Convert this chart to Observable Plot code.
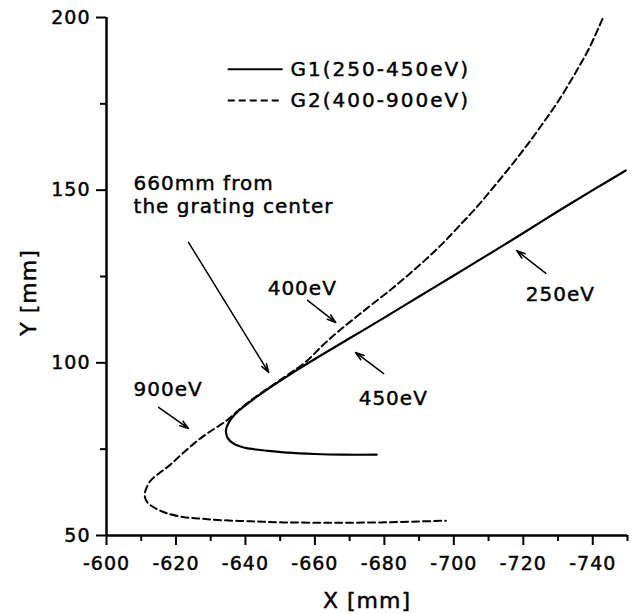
<!DOCTYPE html>
<html>
<head>
<meta charset="utf-8">
<script src="https://cdn.jsdelivr.net/npm/d3@7"></script>
<script src="https://cdn.jsdelivr.net/npm/@observablehq/plot@0.6"></script>
<style>
  html, body { margin: 0; padding: 0; background: #fff; }
  #chart svg text { letter-spacing: 1px; stroke: #000; stroke-width: 0.45px; }
  #chart svg g[aria-label="x-axis tick"], #chart svg g[aria-label="y-axis tick"] { stroke-width: 2px; }
</style>
</head>
<body>
<div id="chart"></div>
<script>
// ---- Data ----
// G1 (250-450 eV) focal curve, solid
const g1X = [-749.5, -740, -730, -720, -710, -700, -690, -680, -670, -660,
             -652, -646, -641, -637.5, -635.3, -634.4, -634.9, -636.6, -639.5, -643,
             -646.5, -652, -660, -668, -677.8];
const g1Y = [155.7, 150.0, 143.9, 137.6, 131.4, 125.3, 119.2, 113.1, 107.1, 101.1,
             96.1, 92.1, 88.5, 85.6, 82.9, 80.5, 78.2, 76.6, 75.5, 74.9,
             74.5, 74.0, 73.6, 73.4, 73.4];
// G2 (400-900 eV) focal curve, dashed
const g2X = [-742.8, -739.0, -735.2, -730.4, -725.6, -720.9, -716.1, -711.3, -706.5, -701.6,
             -696.8, -692.1, -687.4, -682.6, -677.8, -672.4, -667.0, -662.5, -657.5, -652.0,
             -646.0, -641.0, -637.5, -634.6, -631.5, -628.5, -625.5, -622.3, -619.8, -617.5,
             -615.0, -612.7, -611.4, -611.0, -611.6, -612.9, -615.0, -617.5, -622.3, -627.0,
             -631.9, -641.5, -651.0, -661.7, -670.0, -678.9, -688.0, -697.7];
const g2Y = [199.6, 191.2, 184.3, 176.3, 169.3, 162.8, 156.6, 150.7, 145.0, 139.7,
             134.6, 130.1, 125.9, 121.8, 118.0, 113.7, 109.3, 105.3, 100.4, 96.4,
             92.3, 88.7, 85.8, 83.3, 81.2, 79.2, 76.9, 74.1, 71.8, 69.8,
             67.9, 65.9, 63.5, 61.6, 59.8, 58.6, 57.4, 56.4, 55.3, 54.9,
             54.5, 54.1, 53.8, 53.7, 53.7, 53.8, 54.0, 54.3];

// Axis ticks
const xTicks = [-600, -620, -640, -660, -680, -700, -720, -740];
const xMinorTicks = [-610, -630, -650, -670, -690, -710, -730, -750];
const yTicks = [50, 100, 150, 200];
const yMinorTicks = [75, 125, 175];

// Legend
const legendLabels = ["G1(250-450eV)", "G2(400-900eV)"];
const legendDash = [null, "7,4"];
const legendY = [185.0, 176.0];
const legendLineX = [-634.9, -650.7];
const legendTextX = -653.0;

// Annotations (text, anchor position in data units)
const annoLabels = ["660mm from\nthe grating center", "400eV", "450eV", "250eV", "900eV"];
const annoX = [-607.8, -646.4, -672.6, -720.7, -607.8];
const annoY = [148.9, 121.8, 90.0, 120.1, 92.6];
// Arrows (from -> to), data units
const arrowX1 = [-623.6, -657.9, -679.8, -726.5, -615.0];
const arrowY1 = [134.9, 118.1, 96.9, 125.9, 87.1];
const arrowX2 = [-646.7, -666.0, -671.7, -718.1, -623.6];
const arrowY2 = [97.2, 111.7, 103.0, 132.5, 81.0];

// ---- Build tables ----
const g1 = g1X.map((x, i) => ({x, y: g1Y[i]}));
const g2 = g2X.map((x, i) => ({x, y: g2Y[i]}));
const legend = legendLabels.map((label, i) => ({label, dash: legendDash[i], y: legendY[i]}));
const annos = annoLabels.map((t, i) => ({t, x: annoX[i], y: annoY[i]}));
const arrows = arrowX1.map((x1, i) => ({x1, y1: arrowY1[i], x2: arrowX2[i], y2: arrowY2[i]}));

const fmt = d => String(d);

const chart = Plot.plot({
  width: 632,
  height: 614,
  marginLeft: 106,
  marginRight: 5,
  marginTop: 17,
  marginBottom: 79,
  x: {domain: [-600, -750], label: null},
  y: {domain: [50, 200], label: null},
  style: {fontFamily: "'DejaVu Sans', sans-serif", fontSize: "19px", color: "#000", background: "#fff", overflow: "visible"},
  marks: [
    Plot.axisX({ticks: xTicks, tickSize: 10, tickPadding: 11, tickFormat: fmt, strokeWidth: 2, label: null, fontSize: 19}),
    Plot.axisX({ticks: xMinorTicks, tickSize: 6, tickFormat: () => "", strokeWidth: 2, label: null}),
    Plot.axisY({ticks: yTicks, tickSize: 10, tickPadding: 6, tickFormat: fmt, strokeWidth: 2, label: null, fontSize: 19}),
    Plot.axisY({ticks: yMinorTicks, tickSize: 6, tickFormat: () => "", strokeWidth: 2, label: null}),
    Plot.ruleX([-600], {strokeWidth: 2.5}),
    Plot.ruleY([50], {strokeWidth: 2.5}),
    Plot.line(g2, {x: "x", y: "y", curve: "catmull-rom", stroke: "#000", strokeWidth: 2, strokeDasharray: "7,4"}),
    Plot.line(g1, {x: "x", y: "y", curve: "catmull-rom", stroke: "#000", strokeWidth: 2.2}),
    // legend
    Plot.link(legend.filter(d => !d.dash), {x1: () => legendLineX[0], x2: () => legendLineX[1], y1: "y", y2: "y", stroke: "#000", strokeWidth: 2}),
    Plot.link(legend.filter(d => d.dash), {x1: () => legendLineX[0], x2: () => legendLineX[1], y1: "y", y2: "y", stroke: "#000", strokeWidth: 2, strokeDasharray: "7,4"}),
    Plot.text(legend, {x: () => legendTextX, y: "y", text: "label", textAnchor: "start", lineAnchor: "middle", fontSize: 20}),
    // annotations
    Plot.text(annos, {x: "x", y: "y", text: "t", textAnchor: "start", lineAnchor: "middle", fontSize: 20, lineHeight: 1.15}),
    Plot.arrow(arrows, {x1: "x1", y1: "y1", x2: "x2", y2: "y2", stroke: "#000", strokeWidth: 1.5, headLength: 9, headAngle: 35}),
    // axis titles
    Plot.text(["X [mm]"], {frameAnchor: "bottom", dy: 65, lineAnchor: "middle", fontSize: 22}),
    Plot.text(["Y [mm]"], {frameAnchor: "left", dx: -78, dy: 16, rotate: -90, textAnchor: "middle", lineAnchor: "middle", fontSize: 22})
  ]
});

// widen the legend labels' spacing a little, as in the reference
d3.select(chart).selectAll("text")
  .filter(function() { return /^G[12]\(/.test(this.textContent); })
  .style("letter-spacing", "2px");

document.getElementById("chart").appendChild(chart);
</script>
</body>
</html>
